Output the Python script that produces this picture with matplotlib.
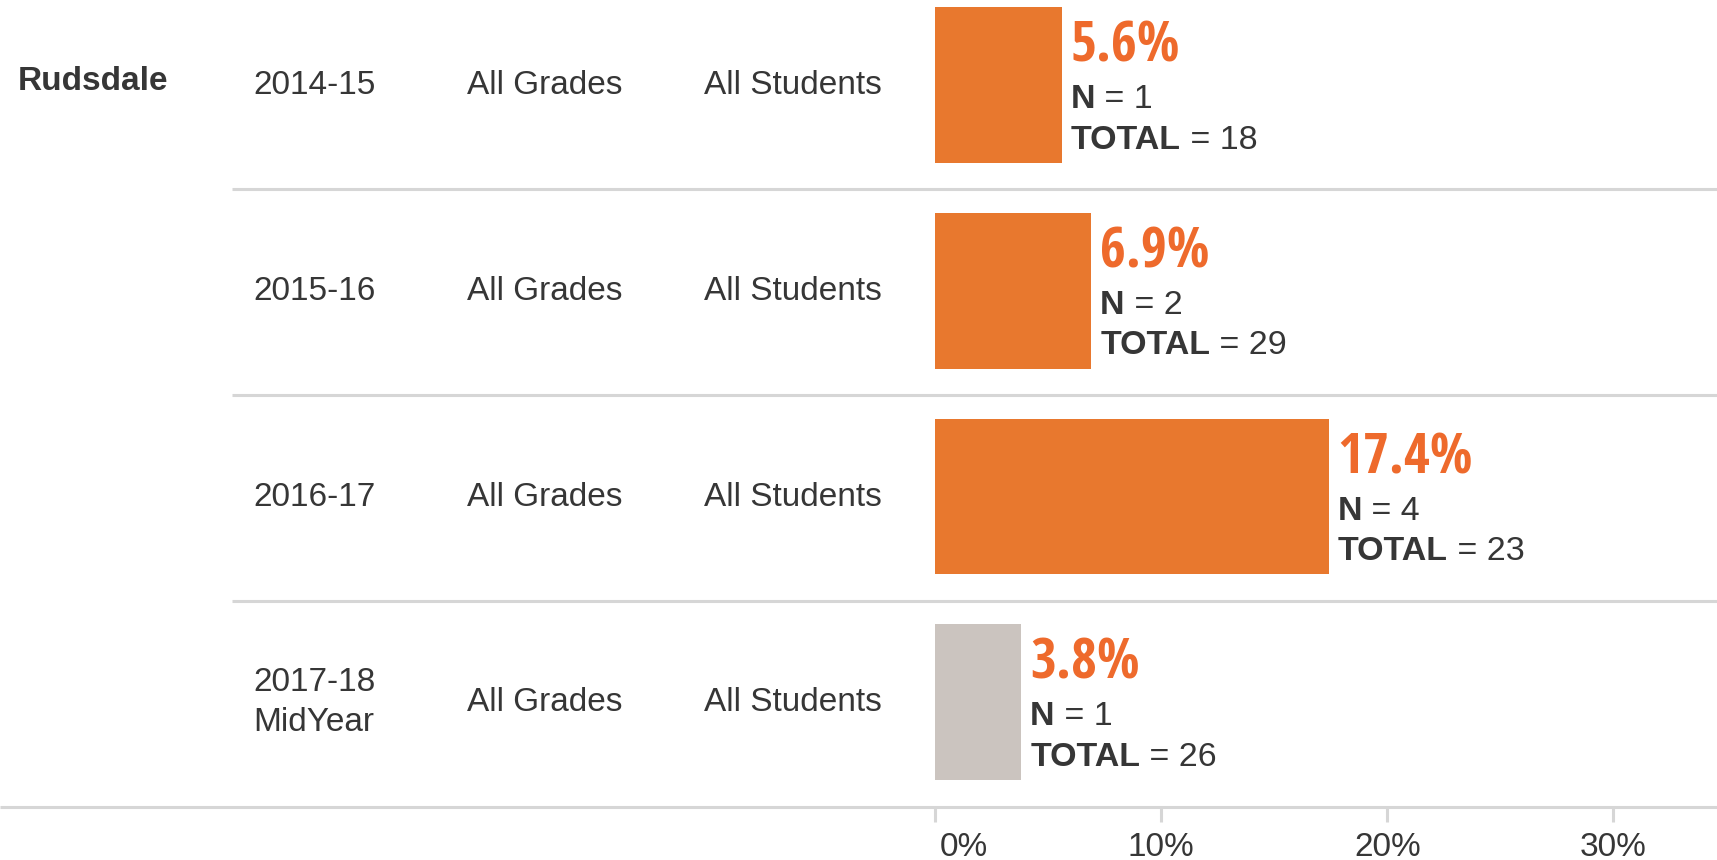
import matplotlib
matplotlib.use("Agg")
import matplotlib.pyplot as plt
from matplotlib import font_manager
from matplotlib.font_manager import FontProperties
from matplotlib.textpath import TextPath

# ---------------- data ----------------
school = "Rudsdale"
years = ["2014-15", "2015-16", "2016-17", "2017-18\nMidYear"]
grades = ["All Grades", "All Grades", "All Grades", "All Grades"]
groups = ["All Students", "All Students", "All Students", "All Students"]
pct = [5.6, 6.9, 17.4, 3.8]
n_vals = [1, 2, 4, 1]
totals = [18, 29, 23, 26]
partial_year = [False, False, False, True]
xticks = [0, 10, 20, 30]
xtick_labels = ["0%", "10%", "20%", "30%"]

# ---------------- layout / style ----------------
W, H = 1717, 860
X0, PXX = 935.3, 22.6      # pixel of 0 %, pixels per 1 %
Y0, PXY = 86.6, 205.7      # pixel of first row centre, pixels per row

ORANGE = "#E8782E"
ORANGE_TXT = "#EE6A2C"
GREY_BAR = "#CBC4BF"
TXT = "#363636"
LINE = "#D6D6D6"

names = {f.name for f in font_manager.fontManager.ttflist}
BASE = "Liberation Sans" if "Liberation Sans" in names else "DejaVu Sans"
plt.rcParams["font.family"] = [BASE, "DejaVu Sans"]


def _weight(f):
    w = f.weight
    if isinstance(w, str):
        w = font_manager.weight_dict.get(w, 400)
    return w


# choose an upright bold (ideally narrow) face with lining figures
ALLOWED = ("Liberation Sans", "DejaVu Sans", "Noto Sans", "Roboto", "Open Sans")
TARGET_RATIO = 131 / 44.0   # ink width / ink height of "17.4%" in reference
best = None
for f in font_manager.fontManager.ttflist:
    nm = f.name
    if _weight(f) < 650 or not nm.startswith(ALLOWED):
        continue
    if f.style != "normal":
        continue
    if any(k in nm for k in ("Mono", "Serif", "CJK", "Display", "Symbols", "Italic")):
        continue
    if "italic" in f.fname.lower() or "oblique" in f.fname.lower():
        continue
    try:
        fp = FontProperties(fname=f.fname)
        h_cap = TextPath((0, 0), "H", size=100, prop=fp).get_extents().height
        h_dig = TextPath((0, 0), "4", size=100, prop=fp).get_extents().height
        if h_dig < 0.93 * h_cap:
            continue   # old-style figures
        ext = TextPath((0, 0), "17.4%", size=100, prop=fp).get_extents()
        ratio = ext.width / ext.height
    except Exception:
        continue
    score = abs(ratio - TARGET_RATIO)
    if best is None or score < best[0]:
        best = (score, fp, ext.width)

if best is not None:
    PCT_PROP = best[1]
    PCT_SIZE = (131 / (best[2] / 100.0)) * 0.72   # px -> pt at 100 dpi
else:
    PCT_PROP = FontProperties(family=BASE, weight="bold")
    PCT_SIZE = 34

fig = plt.figure(figsize=(W / 100, H / 100), dpi=100)
ax = fig.add_axes([0, 0, 1, 1])
xmin, xmax = -X0 / PXX, (W - X0) / PXX
ax.set_xlim(xmin, xmax)
ax.set_ylim((H - Y0) / PXY, -Y0 / PXY)
ax.axis("off")


def xpx(px):
    return (px - X0) / PXX


def ypx(px):
    return (px - Y0) / PXY


def dx(px):
    return px / PXX


def dy(px):
    return px / PXY


rows = list(range(len(pct)))

# bars
colors = [GREY_BAR if p else ORANGE for p in partial_year]
ax.barh([r - dy(1.5) for r in rows], pct, height=0.757, left=0, color=colors,
        edgecolor="none", zorder=2)

# separators
ax.hlines([r + 0.5 for r in rows[:-1]], xpx(232), xmax, color=LINE, lw=2.2,
          capstyle="butt", zorder=1)
ax.hlines(rows[-1] + 0.5, xmin, xmax, color=LINE, lw=2.2, capstyle="butt", zorder=1)

# ticks
ax.vlines(xticks, ypx(807), ypx(822), color=LINE, lw=2.2, capstyle="butt", zorder=1)
for t, lab in zip(xticks, xtick_labels):
    if t == 0:
        ax.text(t + dx(4), ypx(855.7), lab, ha="left", va="baseline",
                fontsize=24, color=TXT)
    else:
        ax.text(t, ypx(855.7), lab, ha="center", va="baseline",
                fontsize=24, color=TXT)

# school label
ax.text(xpx(18), ypx(90), school, ha="left", va="baseline", fontsize=24,
        fontweight="bold", color=TXT)

for i in rows:
    # year label (may be multi-line)
    lines = years[i].split("\n")
    first = 7.7 - (len(lines) - 1) * 40 / 2
    for k, ln in enumerate(lines):
        ax.text(xpx(253.5), i + dy(first + 40 * k), ln, ha="left", va="baseline",
                fontsize=24, color=TXT)
    ax.text(xpx(466.5), i + dy(7.7), grades[i], ha="left", va="baseline",
            fontsize=24, color=TXT)
    ax.text(xpx(703.5), i + dy(7.7), groups[i], ha="left", va="baseline",
            fontsize=24, color=TXT)

    # value labels
    lx = pct[i] + dx(9)
    ax.text(lx, i + dy(-25), f"{pct[i]:.1f}%", ha="left", va="baseline",
            fontproperties=PCT_PROP, fontsize=PCT_SIZE, color=ORANGE_TXT)
    for lab, val, off in (("N", n_vals[i], 21.5), ("TOTAL", totals[i], 62)):
        t = ax.text(lx, i + dy(off), lab, ha="left", va="baseline",
                    fontsize=24.5, fontweight="bold", color=TXT)
        ax.annotate(f" = {val}", xy=(1, 0), xycoords=t, ha="left", va="bottom",
                    fontsize=24.5, color=TXT)

fig.savefig("out.png", dpi=100)
